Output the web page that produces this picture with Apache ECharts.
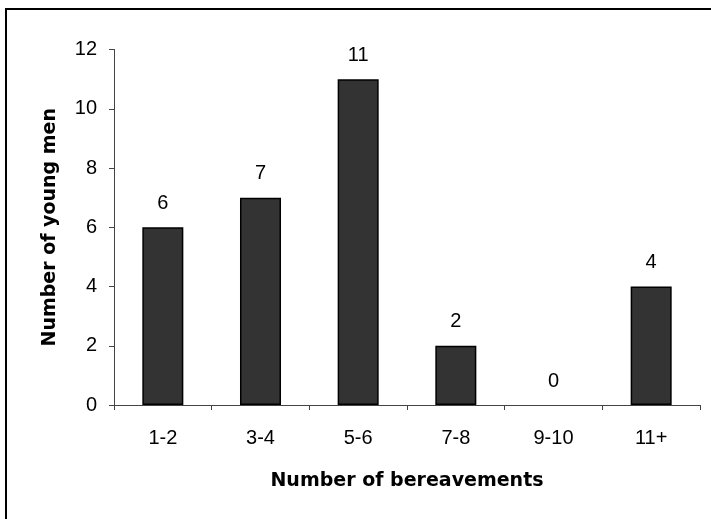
<!DOCTYPE html>
<html>
<head>
<meta charset="utf-8">
<script src="https://cdn.jsdelivr.net/npm/echarts@6/dist/echarts.min.js"></script>
<style>
html,body{margin:0;padding:0;background:#fff;}
#chart{width:711px;height:519px;}
</style>
</head>
<body>
<div id="chart"></div>
<script>
const categories = ['1-2', '3-4', '5-6', '7-8', '9-10', '11+'];
const youngMen = [6, 7, 11, 2, 0, 4];
const yTicks = { min: 0, max: 12, interval: 2 };

const chart = echarts.init(document.getElementById('chart'), null, { renderer: 'canvas' });
chart.setOption({
  animation: false,
  backgroundColor: '#ffffff',
  graphic: [{
    type: 'rect',
    shape: { x: 6, y: 9, width: 800, height: 600 },
    style: { fill: 'none', stroke: '#000', lineWidth: 2 },
    silent: true
  }],
  grid: { left: 114, right: 11, top: 49.5, bottom: 114, containLabel: false },
  xAxis: {
    type: 'category',
    data: categories,
    name: 'Number of bereavements',
    nameLocation: 'middle',
    nameGap: 67,
    nameTextStyle: { fontFamily: 'DejaVu Sans', fontWeight: 'bold', fontSize: 19, color: '#000' },
    axisLine: { lineStyle: { color: '#444', width: 1 } },
    axisTick: { show: true, alignWithLabel: false, length: 5, lineStyle: { color: '#444' } },
    axisLabel: { fontFamily: 'Liberation Sans', fontSize: 20, color: '#000', margin: 23 },
    splitLine: { show: false }
  },
  yAxis: {
    type: 'value',
    min: yTicks.min,
    max: yTicks.max,
    interval: yTicks.interval,
    name: 'Number of young men',
    nameLocation: 'middle',
    nameGap: 54,
    nameRotate: 90,
    nameTextStyle: { fontFamily: 'DejaVu Sans', fontWeight: 'bold', fontSize: 19, color: '#000' },
    axisLine: { show: true, lineStyle: { color: '#444', width: 1 } },
    axisTick: { show: true, length: 5, lineStyle: { color: '#444' } },
    axisLabel: { fontFamily: 'Liberation Sans', fontSize: 20, color: '#000', margin: 17 },
    splitLine: { show: false }
  },
  series: [{
    type: 'bar',
    data: youngMen.map(v => v === 0 ? { value: v, itemStyle: { borderWidth: 0 } } : v),
    barWidth: '42%',
    itemStyle: { color: '#333333', borderColor: '#000', borderWidth: 1.5 },
    label: {
      show: true,
      position: 'top',
      distance: 14,
      fontFamily: 'Liberation Sans',
      fontSize: 20,
      color: '#000'
    }
  }]
});
</script>
</body>
</html>
